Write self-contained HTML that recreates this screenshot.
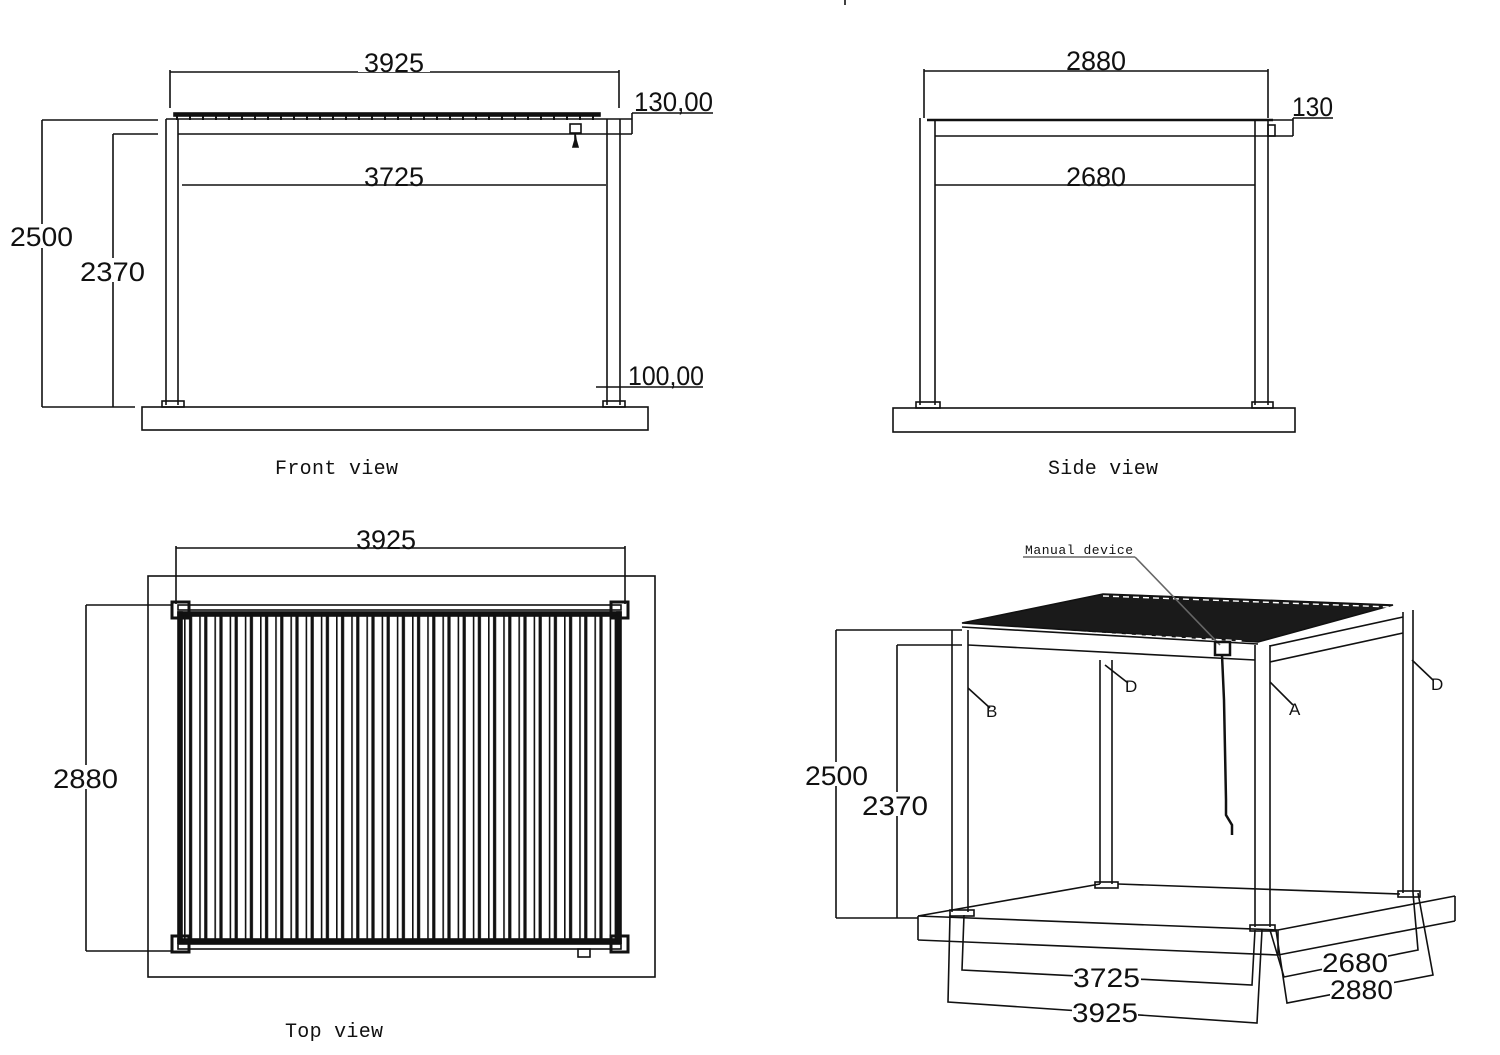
<!DOCTYPE html>
<html><head><meta charset="utf-8"><style>
html,body{margin:0;padding:0;background:#fff}
svg{display:block}
.d{font-family:"Liberation Sans",sans-serif;font-size:27px;fill:#111}
.s{font-family:"Liberation Mono",monospace;font-size:20px;fill:#111}
</style></head><body>
<svg width="1500" height="1055" viewBox="0 0 1500 1055" xmlns="http://www.w3.org/2000/svg">
<defs>
<pattern id="sl" x="184" y="0" width="15.2" height="20" patternUnits="userSpaceOnUse">
<rect x="0" y="0" width="1.6" height="20" fill="#111"/>
<rect x="5" y="0" width="3.2" height="20" fill="#111"/>
</pattern>
</defs>
<g fill="none" stroke="#111" stroke-width="1.6">
<line x1="845" y1="0" x2="845" y2="5"/>
<!-- FRONT VIEW -->
<line x1="170" y1="72" x2="619" y2="72"/>
<line x1="170" y1="70" x2="170" y2="108"/>
<line x1="619" y1="70" x2="619" y2="108"/>
<rect x="174" y="113" width="426" height="3" fill="#111"/>
<line x1="176" y1="118" x2="598" y2="118" stroke-dasharray="2 11" stroke-width="4"/>
<line x1="166" y1="119" x2="632" y2="119"/>
<line x1="178" y1="134" x2="632" y2="134"/>
<line x1="632" y1="134" x2="632" y2="113"/>
<line x1="632" y1="113" x2="713" y2="113"/>
<line x1="166" y1="119" x2="166" y2="405"/>
<line x1="178" y1="119" x2="178" y2="405"/>
<line x1="607" y1="119" x2="607" y2="405"/>
<line x1="620" y1="119" x2="620" y2="405"/>
<rect x="162" y="401" width="22" height="6"/>
<rect x="603" y="401" width="22" height="6"/>
<rect x="570" y="124" width="11" height="9"/>
<path d="M575 133 L575 140 L573 147 L578 147 L576 140Z" fill="#111"/>
<rect x="142" y="407" width="506" height="23"/>
<line x1="42" y1="120" x2="158" y2="120"/>
<line x1="42" y1="407" x2="135" y2="407"/>
<line x1="42" y1="120" x2="42" y2="407"/>
<line x1="113" y1="134" x2="158" y2="134"/>
<line x1="113" y1="134" x2="113" y2="407"/>
<line x1="182" y1="185" x2="606" y2="185"/>
<line x1="596" y1="387" x2="703" y2="387"/>
<!-- SIDE VIEW -->
<line x1="924" y1="71" x2="1268" y2="71"/>
<line x1="924" y1="69" x2="924" y2="118"/>
<line x1="1268" y1="69" x2="1268" y2="118"/>
<line x1="927" y1="120" x2="1273" y2="120" stroke-width="2.4"/>
<line x1="935" y1="136" x2="1293" y2="136"/>
<line x1="1273" y1="120" x2="1293" y2="120"/>
<line x1="1293" y1="136" x2="1293" y2="118"/>
<line x1="1293" y1="118" x2="1333" y2="118"/>
<rect x="1268" y="125" width="7" height="11"/>
<line x1="920" y1="118" x2="920" y2="405"/>
<line x1="935" y1="120" x2="935" y2="405"/>
<line x1="1255" y1="120" x2="1255" y2="405"/>
<line x1="1268" y1="120" x2="1268" y2="405"/>
<rect x="916" y="402" width="24" height="6"/>
<rect x="1252" y="402" width="21" height="6"/>
<rect x="893" y="408" width="402" height="24"/>
<line x1="935" y1="185" x2="1255" y2="185"/>
<!-- TOP VIEW -->
<rect x="148" y="576" width="507" height="401"/>
<line x1="176" y1="548" x2="625" y2="548"/>
<line x1="176" y1="546" x2="176" y2="604"/>
<line x1="625" y1="546" x2="625" y2="604"/>
<line x1="86" y1="605" x2="86" y2="951"/>
<line x1="86" y1="605" x2="172" y2="605"/>
<line x1="86" y1="951" x2="172" y2="951"/>
<rect x="178" y="605" width="443" height="5"/>
<rect x="178" y="612" width="443" height="4" fill="#111"/>
<rect x="178" y="939" width="443" height="4" fill="#111"/>
<rect x="178" y="944" width="443" height="5"/>
<rect x="178" y="612" width="4" height="331" fill="#111"/>
<rect x="617" y="612" width="4" height="331" fill="#111"/>
<rect x="182" y="616" width="435" height="323" fill="url(#sl)" stroke="none"/>
<rect x="172" y="602" width="17" height="16" stroke-width="3"/>
<rect x="611" y="602" width="17" height="16" stroke-width="3"/>
<rect x="172" y="936" width="17" height="16" stroke-width="3"/>
<rect x="611" y="936" width="17" height="16" stroke-width="3"/>
<rect x="578" y="949" width="12" height="8"/>
<!-- ISO VIEW -->
<polygon points="962,623 1103,594 1393,605 1258,642" fill="#1a1a1a"/>
<line x1="1103" y1="596" x2="1390" y2="607" stroke="#fff" stroke-dasharray="6 4" stroke-width="1.4"/>
<line x1="966" y1="626" x2="1244" y2="641" stroke="#fff" stroke-dasharray="6 4" stroke-width="1.4"/>
<line x1="962" y1="627" x2="1258" y2="644"/>
<line x1="968" y1="645" x2="1255" y2="660"/>
<line x1="1270" y1="646" x2="1403" y2="617"/>
<line x1="1270" y1="662" x2="1403" y2="633"/>
<line x1="952" y1="630" x2="952" y2="912"/>
<line x1="968" y1="630" x2="968" y2="912"/>
<line x1="1255" y1="645" x2="1255" y2="927"/>
<line x1="1270" y1="645" x2="1270" y2="927"/>
<line x1="1100" y1="660" x2="1100" y2="884"/>
<line x1="1112" y1="660" x2="1112" y2="884"/>
<line x1="1403" y1="612" x2="1403" y2="893"/>
<line x1="1413" y1="610" x2="1413" y2="893"/>
<rect x="950" y="910" width="24" height="6"/>
<rect x="1250" y="925" width="25" height="6"/>
<rect x="1095" y="882" width="23" height="6"/>
<rect x="1398" y="891" width="22" height="6"/>
<line x1="918" y1="916" x2="1100" y2="884"/>
<line x1="1118" y1="884" x2="1400" y2="894"/>
<line x1="918" y1="916" x2="1278" y2="930"/>
<line x1="1278" y1="930" x2="1455" y2="896"/>
<line x1="918" y1="916" x2="918" y2="940"/>
<line x1="918" y1="940" x2="1278" y2="955"/>
<line x1="1278" y1="955" x2="1455" y2="921"/>
<line x1="1455" y1="896" x2="1455" y2="921"/>
<line x1="1278" y1="930" x2="1278" y2="955"/>
<line x1="836" y1="630" x2="962" y2="630"/>
<line x1="836" y1="630" x2="836" y2="918"/>
<line x1="836" y1="918" x2="918" y2="918"/>
<line x1="897" y1="645" x2="962" y2="645"/>
<line x1="897" y1="645" x2="897" y2="918"/>
<polyline points="964,915 962,970 1252,985 1255,930"/>
<polyline points="950,915 948,1002 1257,1023 1262,930"/>
<polyline points="1270,930 1284,977 1418,950 1413,893"/>
<polyline points="1276,930 1287,1003 1433,975 1418,893"/>
<line x1="968" y1="688" x2="990" y2="708"/>
<line x1="1105" y1="665" x2="1128" y2="683"/>
<line x1="1270" y1="682" x2="1293" y2="705"/>
<line x1="1412" y1="660" x2="1433" y2="680"/>
<line x1="1023" y1="557" x2="1135" y2="557" stroke="#666"/>
<line x1="1135" y1="557" x2="1220" y2="645" stroke="#666"/>
<rect x="1215" y="642" width="15" height="13" stroke-width="2.5"/>
<path d="M1222 655 L1224 700 L1226 800 L1226 815 L1232 825 L1232 835" stroke-width="2.5"/>
</g>
<g fill="#fff" stroke="none">
<rect x="358" y="48" width="72" height="24"/><rect x="1060" y="48" width="72" height="22"/>
<rect x="358" y="165" width="72" height="19"/><rect x="1060" y="165" width="72" height="19"/>
<rect x="350" y="528" width="72" height="19"/>
<rect x="22" y="224" width="38" height="24"/><rect x="90" y="258" width="40" height="24"/>
<rect x="62" y="765" width="48" height="24"/>
<rect x="815" y="762" width="40" height="24"/><rect x="875" y="792" width="44" height="24"/>
<rect x="1073" y="964" width="68" height="22"/><rect x="1072" y="1000" width="66" height="24"/>
<rect x="1322" y="951" width="66" height="22"/><rect x="1330" y="977" width="64" height="24"/>
</g>
<g class="d">
<text x="394" y="72" text-anchor="middle">3925</text>
<text x="394" y="186" text-anchor="middle">3725</text>
<text x="634" y="111" textLength="79" lengthAdjust="spacingAndGlyphs">130,00</text>
<text x="628" y="385" textLength="76" lengthAdjust="spacingAndGlyphs">100,00</text>
<text x="10" y="246" textLength="63" lengthAdjust="spacingAndGlyphs">2500</text>
<text x="80" y="281" textLength="65" lengthAdjust="spacingAndGlyphs">2370</text>
<text x="1096" y="70" text-anchor="middle">2880</text>
<text x="1096" y="186" text-anchor="middle">2680</text>
<text x="1292" y="116" textLength="41" lengthAdjust="spacingAndGlyphs">130</text>
<text x="386" y="549" text-anchor="middle">3925</text>
<text x="53" y="788" textLength="65" lengthAdjust="spacingAndGlyphs">2880</text>
<text x="805" y="785" textLength="63" lengthAdjust="spacingAndGlyphs">2500</text>
<text x="862" y="815" textLength="66" lengthAdjust="spacingAndGlyphs">2370</text>
<text x="1073" y="987" textLength="67" lengthAdjust="spacingAndGlyphs">3725</text>
<text x="1072" y="1022" textLength="66" lengthAdjust="spacingAndGlyphs">3925</text>
<text x="1322" y="972" textLength="66" lengthAdjust="spacingAndGlyphs">2680</text>
<text x="1330" y="999" textLength="63" lengthAdjust="spacingAndGlyphs">2880</text>
</g>
<g font-family="Liberation Sans,sans-serif" font-size="17" fill="#111">
<text x="986" y="717">B</text><text x="1125" y="692">D</text>
<text x="1289" y="715">A</text><text x="1431" y="690">D</text>
</g>
<g class="s">
<text x="275" y="474" textLength="123" lengthAdjust="spacing">Front view</text>
<text x="1048" y="474" textLength="110" lengthAdjust="spacing">Side view</text>
<text x="285" y="1037" textLength="98" lengthAdjust="spacing">Top view</text>
<text x="1025" y="554" font-size="13" textLength="108" lengthAdjust="spacing">Manual device</text>
</g>
</svg>
</body></html>
